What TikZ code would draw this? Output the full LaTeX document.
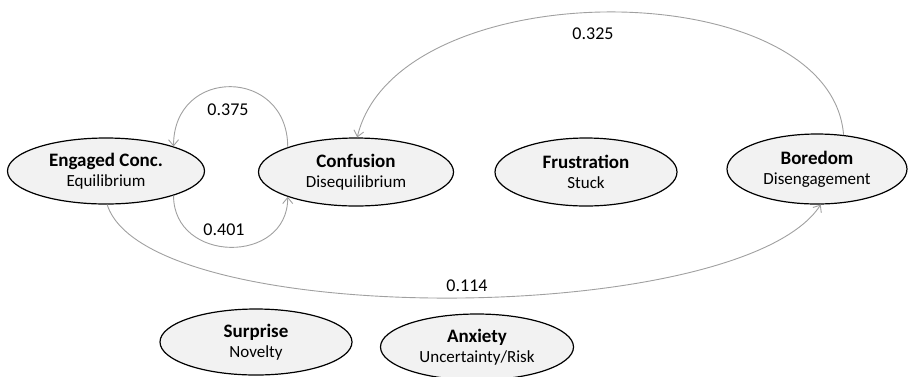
\documentclass[tikz,border=0pt]{standalone}
\usepackage{fontspec}
\setmainfont{Carlito}
\usetikzlibrary{shapes.geometric,arrows.meta}
\definecolor{nodefill}{HTML}{F2F2F2}
\definecolor{edgegray}{HTML}{A0A0A0}
\newcommand{\headline}[1]{{\fontsize{19}{20}\selectfont\bfseries #1}}
\begin{document}
\begin{tikzpicture}[x=1pt,y=1pt,
  state/.style={ellipse, draw=black, line width=1.2pt, fill=nodefill, inner sep=0pt,
    align=center, font=\fontsize{17}{20}\selectfont},
  trans/.style={draw=edgegray, line width=0.9pt, -{Straight Barb[length=6pt,width=10pt]}},
  lbl/.style={font=\fontsize{18}{20}\selectfont, inner sep=0pt}]
\useasboundingbox (0,0) rectangle (909,-376);
\node[state, minimum width=197pt, minimum height=66pt] (eng) at (106,-171) {\headline{Engaged Conc.}\\Equilibrium};
\node[state, minimum width=195pt, minimum height=68pt] (conf) at (356,-172) {\headline{Confusion}\\Disequilibrium};
\node[state, minimum width=182pt, minimum height=68pt] (frus) at (586,-172) {\headline{Frustration}\\Stuck};
\node[state, minimum width=180pt, minimum height=70pt] (bor) at (817,-169) {\headline{Boredom}\\Disengagement};
\node[state, minimum width=192pt, minimum height=66pt] (surp) at (256,-342) {\headline{Surprise}\\Novelty};
\node[state, minimum width=193pt, minimum height=66pt] (anx) at (477,-347) {\headline{Anxiety}\\Uncertainty/Risk};

\draw[trans] (conf.160) .. controls +(0,80) and +(0,80) .. (eng.20);
\draw[trans] (eng.-20) .. controls +(0,-68) and +(0,-68) .. (conf.200);
\draw[trans] (bor.52) .. controls +(-13,164) and +(40,167) .. (conf.88);
\draw[trans] (eng.-88) .. controls +(40,-126) and +(-80,-123) .. (bor.-84);

\node[lbl] (l375) at (228,-110) {0.375};
\node[lbl] (l401) at (224,-230) {0.401};
\node[lbl] (l325) at (593,-34) {0.325};
\node[lbl] (l114) at (467,-286) {0.114};
\end{tikzpicture}
\end{document}
